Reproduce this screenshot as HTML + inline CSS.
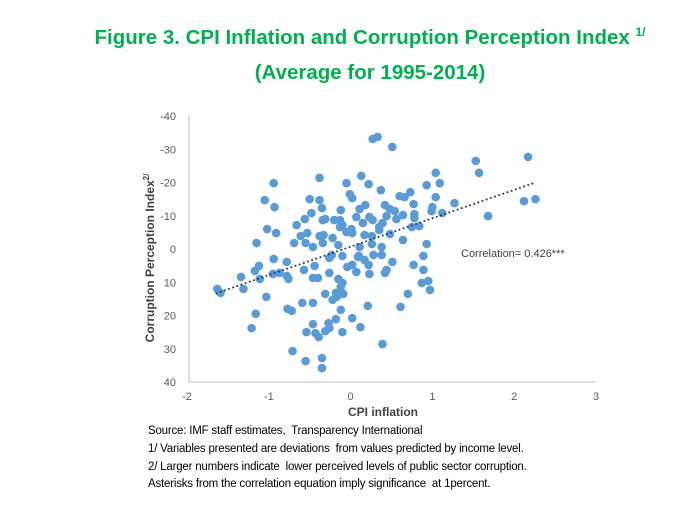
<!DOCTYPE html>
<html><head><meta charset="utf-8"><style>
body{margin:0;background:#fff;width:700px;height:527px;overflow:hidden;font-family:"Liberation Sans",sans-serif}
.t{position:absolute;left:0;width:740px;text-align:center;color:#00b050;font-weight:bold;font-size:20.5px}
.fn{position:absolute;left:148px;font-size:11.5px;color:#000;letter-spacing:-0.2px}
</style></head><body>
<div class="t" style="top:25px">Figure 3. CPI Inflation and Corruption Perception Index <sup style="font-size:12px">1/</sup></div>
<div class="t" style="top:61px">(Average for 1995-2014)</div>
<svg id="chart" width="700" height="527" style="position:absolute;left:0;top:0">
</svg>
<div class="fn" style="top:425px">Source: IMF staff estimates,&nbsp; Transparency International</div>
<div class="fn" style="top:443px">1/ Variables presented are deviations&nbsp; from values predicted by income level.</div>
<div class="fn" style="top:461px">2/ Larger numbers indicate&nbsp; lower perceived levels of public sector corruption.</div>
<div class="fn" style="top:478px">Asterisks from the correlation equation imply significance&nbsp; at 1percent.</div>
<script>
const xTicks=[-2,-1,0,1,2,3];
const yTicks=[-40,-30,-20,-10,0,10,20,30,40];
const xVals=[.27,.33,-.94,-.38,.13,-.05,.22,.37,-1.05,-.93,-.50,-.38,-.01,.02,-.35,-.48,-.12,.11,.18,.42,-.56,-.34,-.31,-.20,-.13,.07,.15,.23,.27,-.66,-.13,-1.02,-.91,-.61,-.53,-.38,-.33,-.22,-.05,.02,.17,.26,.35,-1.15,-.69,-.55,-.46,-.34,-.15,.11,.38,.51,1.53,2.17,1.57,1.04,1.09,.93,.60,.66,.73,1.04,2.12,2.26,1.27,.77,.48,.54,1.00,.99,1.12,.78,1.68,.44,.64,.56,.78,.35,.39,.75,.84,-.10,.01,.48,.64,.93,.26,-.94,-1.12,-1.17,-.78,-1.34,-1.11,-.87,-.95,-.78,-.76,-.57,-.44,-.26,-.23,-.10,.02,-.04,.09,.17,.22,.28,.38,-.26,.07,.23,.42,-.46,-.40,-.15,-.10,-.12,-1.63,-1.59,-1.31,-1.03,-.31,-.18,-.09,-.22,-.17,-.59,-.46,-.77,-.72,-.12,.21,-1.16,-1.21,-.46,-.27,-.18,.02,.12,-.54,-.43,-.39,-.31,-.26,-.10,-.71,-.55,-.35,-.35,.39,.10,.44,.51,.77,.89,.89,.87,.95,.97,.70,.61];
const yVals=[-33.1,-33.7,-19.8,-21.4,-22.0,-19.8,-19.5,-17.7,-14.7,-12.6,-15.0,-14.7,-16.5,-15.3,-12.3,-10.8,-11.7,-12.0,-13.2,-13.2,-9.0,-8.7,-9.0,-8.7,-8.7,-9.6,-7.8,-9.6,-8.7,-7.2,-6.6,-6.0,-4.8,-3.9,-4.8,-3.9,-4.2,-3.3,-5.1,-4.8,-4.2,-3.9,-5.7,-1.8,-1.8,-1.8,-.6,-1.8,-1.2,-.6,-.6,-30.7,-26.5,-27.7,-22.9,-22.9,-19.8,-19.2,-15.9,-15.6,-17.1,-15.6,-14.4,-15.0,-13.8,-13.5,-12.0,-11.4,-12.6,-11.4,-10.8,-10.5,-9.9,-9.9,-10.2,-9.0,-9.3,-6.6,-7.8,-6.6,-6.9,-7.2,-6.0,-4.5,-2.7,-1.5,-1.5,3.0,5.1,6.6,3.9,8.4,9.0,7.2,7.5,8.1,9.0,6.3,5.1,2.7,1.8,2.1,4.8,5.4,2.4,3.3,4.8,1.8,1.8,7.2,6.9,7.5,7.2,8.7,8.7,9.0,10.2,11.4,12.0,13.2,12.0,14.4,13.5,13.2,13.5,15.3,14.4,16.2,16.2,18.0,18.6,18.3,17.1,19.5,23.8,22.6,22.3,21.1,20.8,23.5,25.0,25.3,26.5,24.7,23.8,25.0,30.7,33.7,32.8,35.8,28.6,2.1,6.3,3.9,4.8,2.1,6.3,10.2,9.6,12.3,13.5,17.4];
const trendSlope=-8.54;
const trendIntercept=-0.7;
const trendRange=[-1.65,2.25];
const NS='http://www.w3.org/2000/svg';
const svg=document.getElementById('chart');
const X=v=>350.6+v*81.8;
const Y=v=>249+v*3.325;
function mk(t,a){const e=document.createElementNS(NS,t);for(const k in a)e.setAttribute(k,a[k]);svg.appendChild(e);return e;}
let ax=mk('line',{x1:189,y1:115,x2:189,y2:382,stroke:'#bfbfbf','stroke-width':1});


let bx=mk('line',{x1:189,y1:382,x2:596,y2:382,stroke:'#bfbfbf','stroke-width':1});


yTicks.forEach(v=>{const t=mk('text',{x:176,y:Y(v)+4,'text-anchor':'end','font-size':11,fill:'#595959','font-family':'Liberation Sans, sans-serif'});t.textContent=v;

});
xTicks.forEach(v=>{const t=mk('text',{x:X(v),y:400,'text-anchor':'middle','font-size':11,fill:'#595959','font-family':'Liberation Sans, sans-serif'});t.textContent=v;

});
xVals.forEach((v,i)=>{const c=mk('circle',{cx:X(v),cy:Y(yVals[i]),r:4.3,fill:'#5b9bd5'});

});
const tl=mk('line',{x1:X(trendRange[0]),y1:Y(trendIntercept+trendSlope*trendRange[0]),x2:X(trendRange[1]),y2:Y(trendIntercept+trendSlope*trendRange[1]),stroke:'#1f3864','stroke-width':1.8,'stroke-dasharray':'1.8 2.6'});


const xt=mk('text',{x:383,y:416,'text-anchor':'middle','font-size':12,'font-weight':'bold',fill:'#404040','font-family':'Liberation Sans, sans-serif'});xt.textContent='CPI inflation';


const yt=mk('text',{x:0,y:0,'text-anchor':'middle','font-size':12,'font-weight':'bold',fill:'#404040','font-family':'Liberation Sans, sans-serif',transform:'translate(154,258) rotate(-90)'});yt.innerHTML='Corruption Perception Index<tspan font-size="8" dy="-5">2/</tspan>';


const ct=mk('text',{x:461,y:257,'font-size':11,fill:'#404040','font-family':'Liberation Sans, sans-serif'});ct.textContent='Correlation=  0.426***';


</script>
</body></html>
